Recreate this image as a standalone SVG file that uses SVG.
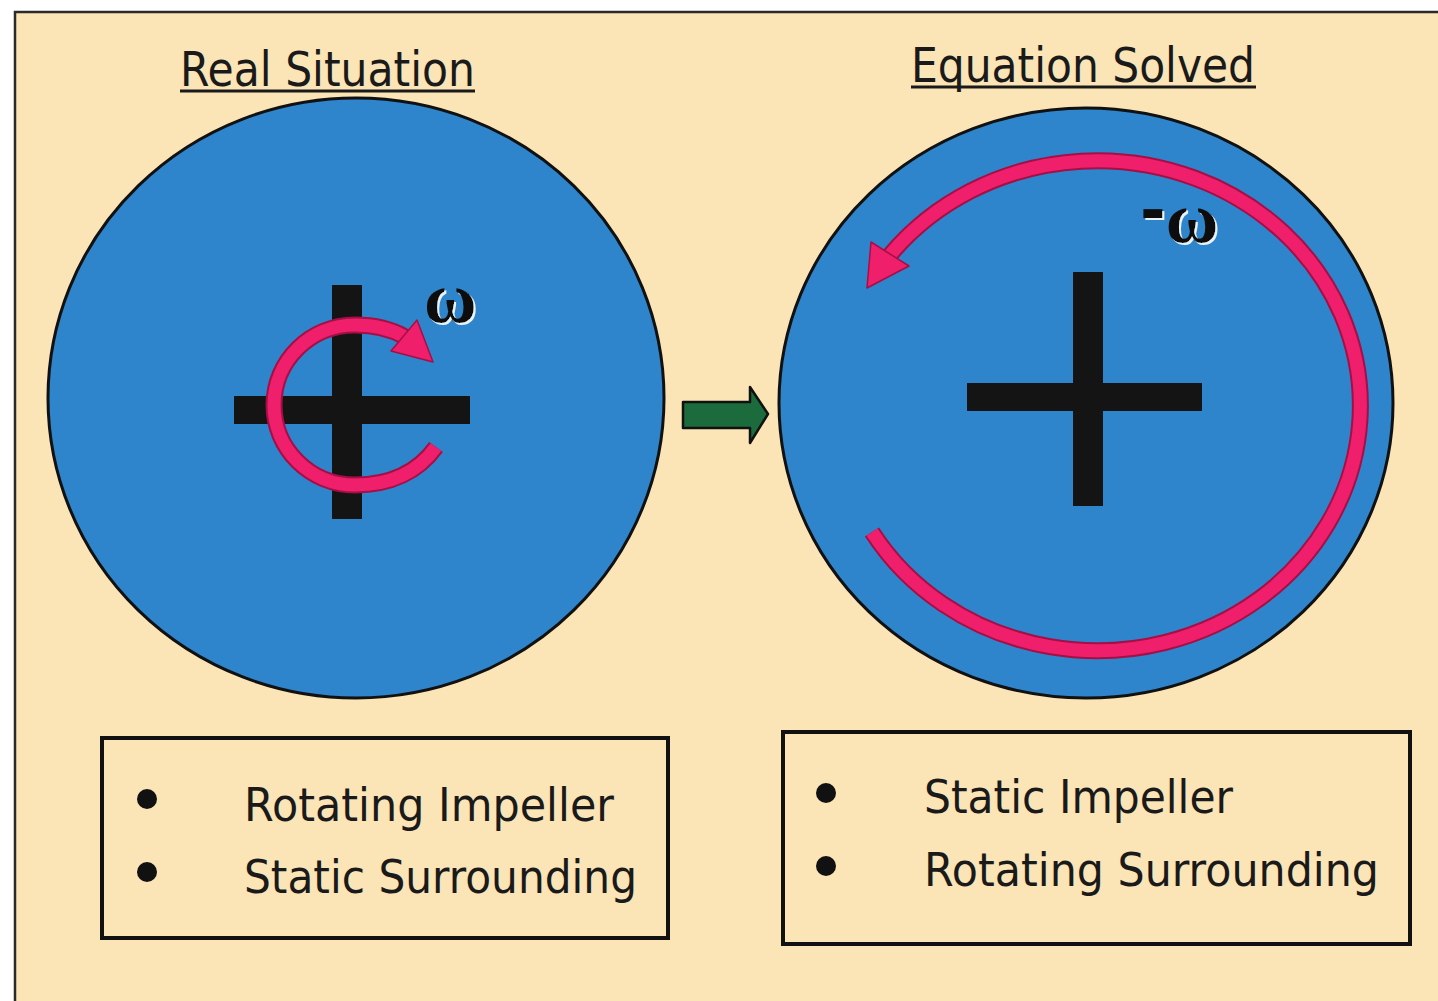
<svg xmlns="http://www.w3.org/2000/svg" width="1438" height="1001" viewBox="0 0 1438 1001">
<style>
.title{font-family:"DejaVu Sans","Liberation Sans",sans-serif;font-size:48px;fill:#1a1a1a}
.uline{stroke:#1a1a1a;stroke-width:3}
.disc{fill:#2e85cc;stroke:#111;stroke-width:3}
.bar{fill:#141414}
.rot-under{fill:none;stroke:#a50f45;stroke-width:17}
.rot{fill:none;stroke:#ef1f6b;stroke-width:13}
.head{fill:#ef1f6b;stroke:#a50f45;stroke-width:1.5;stroke-linejoin:round}
.omega{font-family:"Liberation Serif","DejaVu Serif",serif;font-weight:bold;font-size:72px;fill:#111;filter:url(#hl)}
.box{fill:none;stroke:#111;stroke-width:4}
.item{font-family:"DejaVu Sans","Liberation Sans",sans-serif;font-size:46px;fill:#1a1a1a}
.dot{fill:#111}
.flow{fill:#1c6b3c;stroke:#111;stroke-width:2.5;stroke-linejoin:round}
</style>
<defs>
<filter id="hl" x="-20%" y="-20%" width="150%" height="150%">
<feDropShadow dx="2" dy="2" stdDeviation="0.3" flood-color="#ffffff" flood-opacity="0.9"/>
</filter>
</defs>
<rect x="0" y="0" width="1438" height="1001" fill="#ffffff"/>
<rect x="15" y="12" width="1440" height="1000" fill="#fbe4b6" stroke="#2a2a2a" stroke-width="2.5"/>

<g id="title-real">
<text class="title" x="180" y="86" textLength="295" lengthAdjust="spacingAndGlyphs">Real Situation</text>
<line class="uline" x1="180" y1="91" x2="475" y2="91"/>
</g>
<g id="title-solved">
<text class="title" x="911" y="82" textLength="344" lengthAdjust="spacingAndGlyphs">Equation Solved</text>
<line class="uline" x1="911" y1="87" x2="1256" y2="87"/>
</g>

<g id="disc-real">
<ellipse class="disc" cx="356" cy="398" rx="308" ry="300"/>
<rect class="bar" x="332" y="285" width="30" height="234"/>
<rect class="bar" x="234" y="396" width="236" height="28"/>
<path class="rot-under" d="M 436 447 C 418 472, 390 485, 355 485 C 310 485, 274 449, 274 405 C 274 361, 310 325, 355 325 C 375 325, 393 330, 405 337"/>
<path class="rot" d="M 436 447 C 418 472, 390 485, 355 485 C 310 485, 274 449, 274 405 C 274 361, 310 325, 355 325 C 375 325, 393 330, 405 337"/>
<polygon class="head" points="433,362 391,351 417,320"/>
<text class="omega" x="424" y="322">ω</text>
</g>

<g id="disc-solved">
<ellipse class="disc" cx="1086" cy="403" rx="307" ry="295"/>
<rect class="bar" x="1073" y="272" width="30" height="234"/>
<rect class="bar" x="967" y="383" width="235" height="28"/>
<path class="rot-under" d="M 872 532 A 263 245 0 1 0 890 255"/>
<path class="rot" d="M 872 532 A 263 245 0 1 0 890 255"/>
<polygon class="head" points="867,288 871,242 909,266"/>
<text class="omega" x="1140" y="242"><tspan font-family="DejaVu Sans, sans-serif" font-size="62" dy="-10">-</tspan><tspan dy="10">ω</tspan></text>
</g>

<g id="connectors">
<polygon class="flow" points="683,402 750,402 750,387 768,414 750,443 750,428 683,428"/>
</g>

<g id="box-real">
<rect class="box" x="102" y="738" width="566" height="200"/>
<circle class="dot" cx="147" cy="799" r="10"/>
<circle class="dot" cx="147" cy="872" r="10"/>
<text class="item" x="244" y="821" textLength="370" lengthAdjust="spacingAndGlyphs">Rotating Impeller</text>
<text class="item" x="244" y="893" textLength="393" lengthAdjust="spacingAndGlyphs">Static Surrounding</text>
</g>

<g id="box-solved">
<rect class="box" x="783" y="732" width="627" height="212"/>
<circle class="dot" cx="826" cy="793" r="10"/>
<circle class="dot" cx="826" cy="866" r="10"/>
<text class="item" x="924" y="813" textLength="309" lengthAdjust="spacingAndGlyphs">Static Impeller</text>
<text class="item" x="924" y="886" textLength="455" lengthAdjust="spacingAndGlyphs">Rotating Surrounding</text>
</g>
</svg>
